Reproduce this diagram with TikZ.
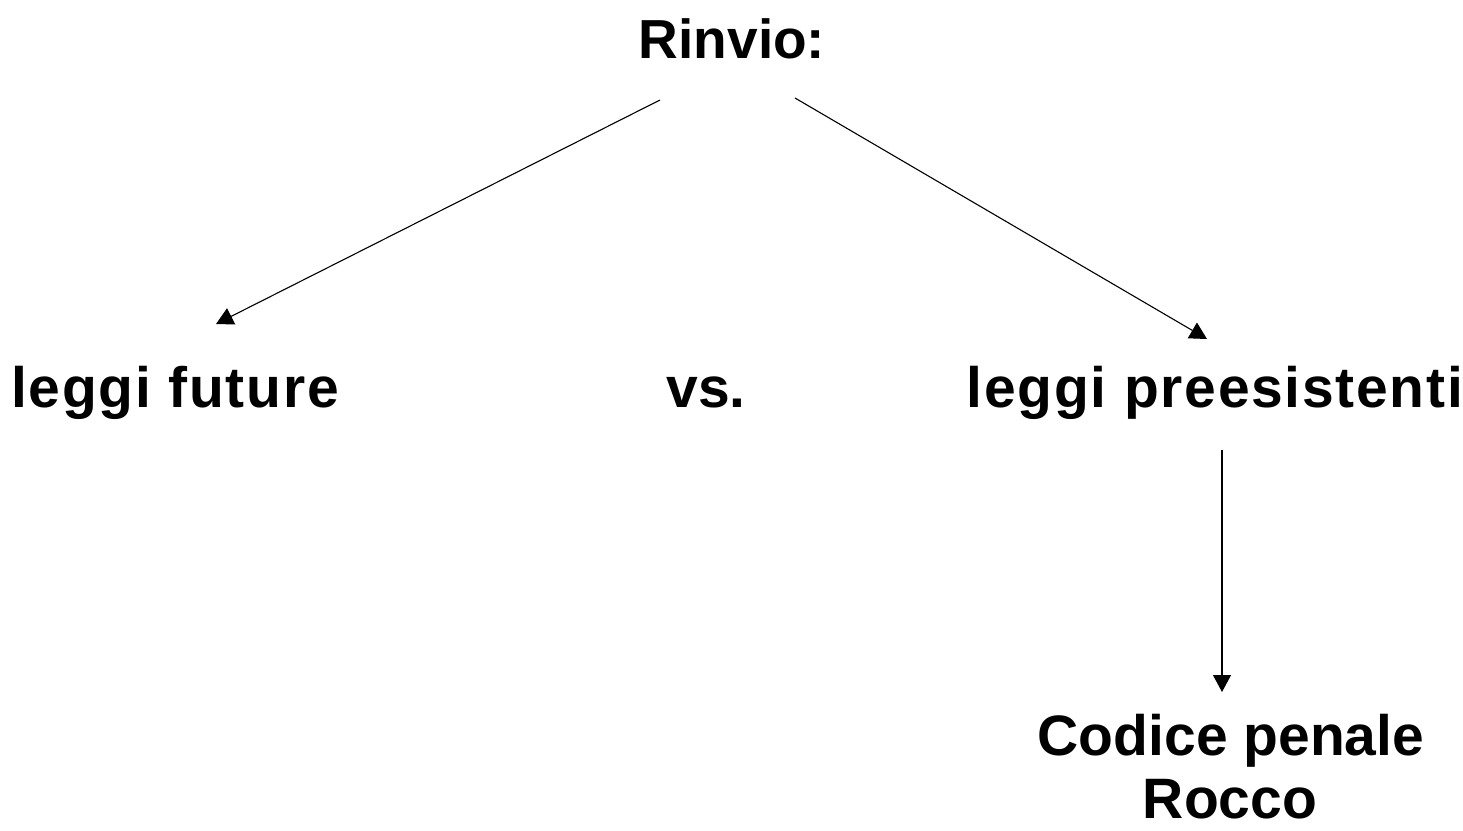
\documentclass[tikz,border=0pt]{standalone}
\usepackage{fontspec}
\setmainfont{Liberation Sans}
\newfontfamily\widefont[LetterSpace=3]{Liberation Sans}
\usetikzlibrary{arrows.meta}
\begin{document}
\begin{tikzpicture}[x=1pt,y=-1pt,
  lbl/.style={font=\fontsize{57}{64}\selectfont\bfseries, inner sep=0pt, anchor=base},
  wlbl/.style={lbl, font=\fontsize{57}{64}\widefont\bfseries},
  arr/.style={draw=black, line width=1.1pt, -{Triangle[length=17pt,width=18pt]}}]
\useasboundingbox[fill=white] (0,0) rectangle (1463,830);
\node[lbl, font=\fontsize{55}{64}\selectfont\bfseries] (rinvio) at (732,58) {Rinvio:};
\node[wlbl] (future) at (175,407) {leggi future};
\node[lbl] (vs) at (706,407) {vs.};
\node[wlbl] (pre) at (1215,407) {leggi preesistenti};
\node[lbl] (codice) at (1231,755) {Codice penale};
\node[lbl, text depth=0pt] (rocco) at (1230,818) {Rocco};
\coordinate (s1) at (660,100);
\coordinate (e1) at (216,324);
\coordinate (s2) at (795,98);
\coordinate (e2) at (1207,339);
\coordinate (s3) at (1222,450);
\coordinate (e3) at (1222,692);
\draw[arr] (s1) -- (e1);
\draw[arr] (s2) -- (e2);
\draw[arr] (s3) -- (e3);
\end{tikzpicture}
\end{document}
